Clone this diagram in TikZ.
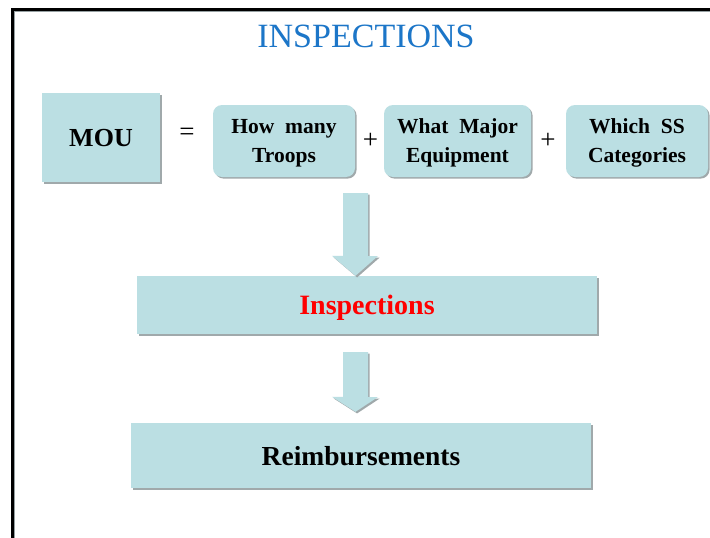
\documentclass[tikz,border=0pt]{standalone}
\usepackage{fontspec}
\setmainfont{Liberation Serif}
\usetikzlibrary{shadows}
\definecolor{boxfill}{RGB}{187,223,227}
\definecolor{titleblue}{RGB}{28,118,200}
\definecolor{shadowgray}{RGB}{150,160,162}
\tikzset{
  sh/.style={drop shadow={shadow xshift=1.6pt, shadow yshift=-1.6pt, fill=shadowgray, opacity=0.9}},
  sqbox/.style={fill=boxfill, sh, inner sep=0pt, align=center, text depth=0pt, font=\fontsize{26}{30}\selectfont\bfseries},
  rbox/.style={fill=boxfill, sh, rounded corners=9pt, inner sep=0pt, align=center, text depth=0pt,
               minimum width=142pt, minimum height=72pt, font=\fontsize{21.5}{29}\selectfont\bfseries},
  op/.style={font=\fontsize{27}{30}\selectfont},
  fatarrow/.style={fill=boxfill, sh}
}
\begin{document}
\begin{tikzpicture}[x=1pt,y=-1pt]
\useasboundingbox (0,0) rectangle (710,538);
\fill[white] (0,0) rectangle (710,538);
% frame
\draw[shadowgray, line width=1.5pt] (14.5,538) -- (14.5,11.5) -- (710,11.5);
\draw[black, line width=3pt] (12.5,538) -- (12.5,9.5) -- (710,9.5);
% title
\node[font=\fontsize{34}{38}\selectfont, text=titleblue] (title) at (366,36) {INSPECTIONS};
% top row
\node[sqbox, minimum width=118pt, minimum height=89pt] (mou) at (101,137.5) {MOU};
\node[op] (eq) at (187,134) {=};
\node[rbox] (troops) at (284,141) {How\ \ many\\Troops};
\node[op] (p1) at (370.5,141) {+};
\node[rbox, minimum width=147pt] (equip) at (457.5,141) {What\ \ Major\\Equipment};
\node[op] (p2) at (548,141) {+};
\node[rbox] (cat) at (637,141) {Which\ \ SS\\Categories};
% lower boxes
\node[sqbox, minimum width=460pt, minimum height=58pt, text=red, font=\fontsize{28}{32}\selectfont\bfseries] (insp) at (367,305) {Inspections};
\node[sqbox, minimum width=460pt, minimum height=65pt, font=\fontsize{27.5}{32}\selectfont\bfseries] (reimb) at (361,455.5) {Reimbursements};
% fat arrows
\coordinate (a1) at (355.5,193);
\coordinate (a2) at (355.5,352);
\fill[fatarrow] (a1) ++(-12.5,0) -- ++(25,0) -- ++(0,63) -- ++(10,0) -- (a1 |- insp.north) -- ++(-23.5,-20) -- ++(11,0) -- cycle;
\fill[fatarrow] (a2) ++(-12.5,0) -- ++(25,0) -- ++(0,45) -- ++(10,0) -- ([yshift=11pt]a2 |- reimb.north) -- ++(-23.5,-15) -- ++(11,0) -- cycle;
\end{tikzpicture}
\end{document}
